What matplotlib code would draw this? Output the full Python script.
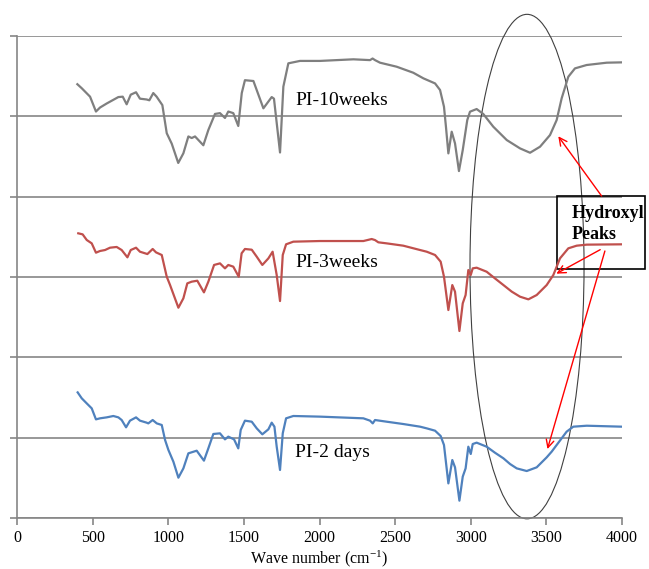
import matplotlib.pyplot as plt
from matplotlib.patches import Ellipse, Rectangle

plt.rcParams['font.family'] = ['Liberation Serif', 'DejaVu Serif']
plt.rcParams['mathtext.default'] = 'regular'

# FTIR spectra, stacked with vertical offsets (arbitrary units)
wn_10w = [399, 428, 483, 522, 549, 593, 670, 699, 725, 752, 787, 813, 857, 875, 901, 923,
          961, 990, 1023, 1066, 1100, 1133, 1155, 1177, 1232, 1265, 1309, 1342, 1375, 1397,
          1430, 1463, 1486, 1507, 1563, 1629, 1684, 1699, 1739, 1761, 1794, 1871, 2003, 2224,
          2334, 2351, 2367, 2400, 2510, 2620, 2687, 2764, 2797, 2823, 2836, 2852, 2874, 2896,
          2922, 2947, 2977, 2995, 3039, 3083, 3149, 3238, 3326, 3392, 3458, 3524, 3568, 3601,
          3645, 3689, 3766, 3899, 3998]
pi_10w = [5.40, 5.35, 5.245, 5.06, 5.11, 5.16, 5.24, 5.245, 5.15, 5.27, 5.30, 5.22, 5.21,
          5.20, 5.29, 5.245, 5.14, 4.79, 4.66, 4.42, 4.54, 4.75, 4.73, 4.75, 4.64, 4.83, 5.03,
          5.04, 4.98, 5.06, 5.04, 4.88, 5.29, 5.45, 5.44, 5.10, 5.24, 5.22, 4.55, 5.37, 5.66,
          5.69, 5.69, 5.71, 5.70, 5.72, 5.70, 5.668, 5.618, 5.543, 5.473, 5.41, 5.328, 5.12,
          4.871, 4.539, 4.809, 4.663, 4.319, 4.58, 4.954, 5.058, 5.091, 5.029, 4.871, 4.705,
          4.601, 4.547, 4.622, 4.767, 4.954, 5.224, 5.493, 5.597, 5.639, 5.668, 5.672]

wn_3w = [405, 434, 461, 494, 522, 549, 582, 615, 659, 692, 730, 752, 787, 813, 862, 897,
         919, 957, 990, 1012, 1067, 1100, 1126, 1155, 1192, 1236, 1265, 1303, 1342, 1375,
         1397, 1430, 1466, 1485, 1507, 1552, 1585, 1622, 1662, 1690, 1717, 1739, 1757, 1779,
         1827, 2003, 2290, 2345, 2367, 2389, 2444, 2554, 2665, 2709, 2764, 2801, 2823, 2852,
         2878, 2896, 2925, 2947, 2966, 2984, 3000, 3013, 3039, 3105, 3160, 3216, 3271, 3326,
         3381, 3436, 3502, 3546, 3590, 3645, 3700, 3767, 3998]
pi_3w = [3.544, 3.531, 3.461, 3.419, 3.303, 3.324, 3.336, 3.365, 3.374, 3.336, 3.245, 3.336,
         3.365, 3.315, 3.286, 3.349, 3.307, 3.274, 3.004, 2.90, 2.618, 2.735, 2.921, 2.942,
         2.954, 2.809, 2.942, 3.15, 3.17, 3.108, 3.15, 3.129, 3.004, 3.295, 3.349, 3.34,
         3.253, 3.15, 3.232, 3.315, 3.025, 2.701, 3.274, 3.407, 3.44, 3.448, 3.448, 3.473,
         3.46, 3.432, 3.419, 3.39, 3.336, 3.315, 3.274, 3.191, 3.004, 2.589, 2.90, 2.817,
         2.328, 2.672, 2.776, 3.087, 3.025, 3.108, 3.116, 3.066, 2.983, 2.90, 2.818, 2.755,
         2.722, 2.776, 2.90, 3.025, 3.232, 3.357, 3.39, 3.403, 3.407]

wn_2d = [401, 428, 461, 494, 522, 549, 593, 637, 670, 692, 721, 747, 787, 813, 857, 868,
         897, 924, 957, 979, 1001, 1034, 1067, 1100, 1133, 1188, 1236, 1265, 1298, 1342,
         1375, 1397, 1435, 1463, 1479, 1507, 1552, 1585, 1622, 1662, 1684, 1702, 1717, 1739,
         1757, 1779, 1827, 2003, 2290, 2334, 2352, 2367, 2444, 2554, 2665, 2709, 2764, 2801,
         2823, 2852, 2878, 2896, 2925, 2947, 2966, 2984, 3000, 3013, 3039, 3105, 3160, 3216,
         3260, 3304, 3370, 3436, 3502, 3535, 3568, 3601, 3634, 3678, 3767, 3998]
pi_2d = [1.564, 1.49, 1.427, 1.365, 1.228, 1.241, 1.253, 1.27, 1.253, 1.22, 1.129, 1.212,
         1.253, 1.212, 1.187, 1.178, 1.22, 1.178, 1.158, 0.971, 0.847, 0.701, 0.502, 0.618,
         0.805, 0.838, 0.714, 0.867, 1.046, 1.054, 0.979, 1.013, 0.979, 0.867, 1.096, 1.212,
         1.199, 1.116, 1.042, 1.104, 1.187, 1.137, 0.888, 0.598, 1.054, 1.241, 1.27, 1.262,
         1.241, 1.212, 1.178, 1.22, 1.199, 1.17, 1.137, 1.116, 1.087, 1.021, 0.909, 0.431,
         0.722, 0.631, 0.216, 0.515, 0.618, 0.888, 0.797, 0.921, 0.938, 0.888, 0.813, 0.743,
         0.672, 0.618, 0.585, 0.631, 0.755, 0.826, 0.909, 0.992, 1.075, 1.137, 1.149, 1.137]

xticks = [0, 500, 1000, 1500, 2000, 2500, 3000, 3500, 4000]

fig = plt.figure(figsize=(6.49, 5.69), dpi=100)
ax = fig.add_axes([0.0262, 0.0896, 0.9322, 0.8471])

ax.plot(wn_10w, pi_10w, color='#7f7f7f', lw=1.6)
ax.plot(wn_3w, pi_3w, color='#c0504d', lw=1.6)
ax.plot(wn_2d, pi_2d, color='#4f81bd', lw=1.6)

ax.text(1840, 5.14, 'PI-10weeks', fontsize=14)
ax.text(1840, 3.12, 'PI-3weeks', fontsize=14)
ax.text(1840, 0.76, 'PI-2 days', fontsize=14)

ax.set_xlim(0, 4000)
ax.set_ylim(0, 6)
ax.set_xticks(xticks)
ax.set_yticks(range(7))
ax.set_yticklabels([])
ax.grid(axis='y', color='#868686', lw=1.2)
ax.set_axisbelow(True)
for s in ['top', 'right']:
    ax.spines[s].set_visible(False)
for s in ['left', 'bottom']:
    ax.spines[s].set_color('#868686')
    ax.spines[s].set_linewidth(1.2)
ax.tick_params(colors='#868686', labelcolor='black', labelsize=11.5, length=5, width=1.2)
ax.set_xlabel('Wave number (cm$^{-1}$)', fontsize=11.5, labelpad=2)

# hydroxyl band highlight
ax.add_patch(Ellipse((3372, 3.13), 754, 6.28, fill=False, ec='#404040', lw=0.8,
                     clip_on=False))
ax.add_patch(Rectangle((3570, 3.10), 582, 0.908, fill=False, ec='black', lw=1.2,
                       clip_on=False))
ax.text(3667, 3.735, 'Hydroxyl', fontsize=13, fontweight='bold')
ax.text(3667, 3.473, 'Peaks', fontsize=13, fontweight='bold')

arrow = dict(arrowstyle='->', color='red', lw=1, mutation_scale=14)
ax.annotate('', xy=(3568, 4.78), xytext=(3876, 3.98), arrowprops=arrow,
            annotation_clip=False)
ax.annotate('', xy=(3550, 3.025), xytext=(3872, 3.357), arrowprops=arrow,
            annotation_clip=False)
ax.annotate('', xy=(3502, 0.825), xytext=(3892, 3.357), arrowprops=arrow,
            annotation_clip=False)

plt.savefig('out.png', dpi=100)
